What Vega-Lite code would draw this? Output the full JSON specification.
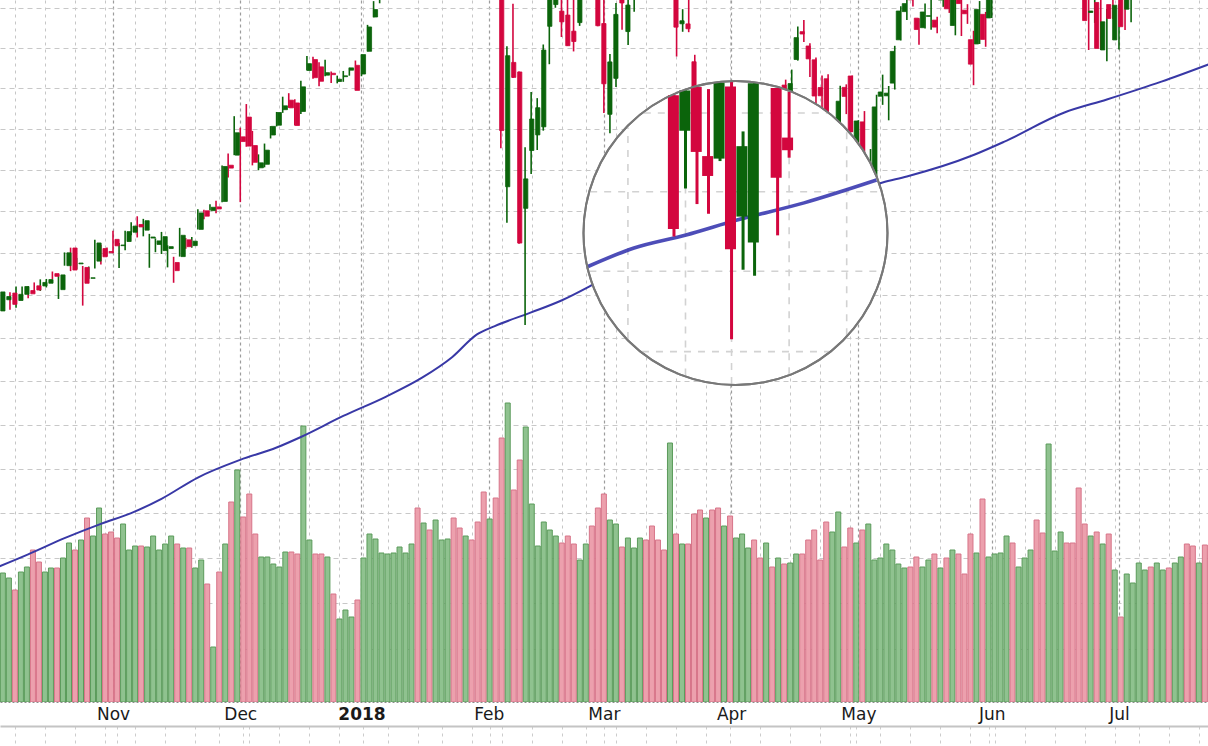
{
  "$schema": "https://vega.github.io/schema/vega-lite/v6.json",
  "width": 1208,
  "height": 702,
  "autosize": {"type": "none"},
  "padding": {"left": 0, "top": 0, "right": 0, "bottom": 44},
  "background": "#ffffff",
  "config": {"view": {"stroke": null}, "axis": {"title": null}},
  "datasets": {
    "ohlc": [
      {"i":0,"o":2540.86,"h":2552.51,"l":2536.52,"c":2552.07,"v":1290},
      {"i":1,"o":2547.44,"h":2549.41,"l":2543.79,"c":2549.33,"v":1240},
      {"i":2,"o":2551.39,"h":2551.82,"l":2541.6,"c":2544.73,"v":1120},
      {"i":3,"o":2547.0,"h":2555.23,"l":2542.73,"c":2550.64,"v":1300},
      {"i":4,"o":2550.62,"h":2555.24,"l":2547.95,"c":2555.24,"v":1350},
      {"i":5,"o":2552.88,"h":2555.33,"l":2548.31,"c":2550.93,"v":1520},
      {"i":6,"o":2555.66,"h":2557.65,"l":2552.09,"c":2553.17,"v":1400},
      {"i":7,"o":2555.57,"h":2559.47,"l":2552.64,"c":2557.64,"v":1300},
      {"i":8,"o":2557.17,"h":2559.71,"l":2554.69,"c":2559.36,"v":1340},
      {"i":9,"o":2562.87,"h":2564.11,"l":2559.67,"c":2561.26,"v":1340},
      {"i":10,"o":2553.39,"h":2562.36,"l":2547.92,"c":2562.1,"v":1440},
      {"i":11,"o":2567.56,"h":2575.44,"l":2567.56,"c":2575.21,"v":1590},
      {"i":12,"o":2578.08,"h":2578.29,"l":2564.33,"c":2564.98,"v":1520},
      {"i":13,"o":2568.66,"h":2572.18,"l":2565.58,"c":2569.13,"v":1620},
      {"i":14,"o":2566.52,"h":2567.4,"l":2544.0,"c":2557.15,"v":1840},
      {"i":15,"o":2560.08,"h":2567.07,"l":2559.8,"c":2560.4,"v":1660},
      {"i":16,"o":2570.26,"h":2582.98,"l":2565.94,"c":2581.07,"v":1940},
      {"i":17,"o":2577.75,"h":2580.03,"l":2568.25,"c":2572.83,"v":1680},
      {"i":18,"o":2575.99,"h":2578.29,"l":2572.95,"c":2575.26,"v":1700},
      {"i":19,"o":2583.21,"h":2588.4,"l":2574.92,"c":2579.36,"v":1640},
      {"i":20,"o":2579.46,"h":2581.11,"l":2566.17,"c":2579.85,"v":1780},
      {"i":21,"o":2581.93,"h":2588.42,"l":2576.77,"c":2587.84,"v":1520},
      {"i":22,"o":2587.47,"h":2593.38,"l":2585.66,"c":2591.13,"v":1560},
      {"i":23,"o":2592.11,"h":2597.02,"l":2584.35,"c":2590.64,"v":1560},
      {"i":24,"o":2588.71,"h":2595.47,"l":2585.02,"c":2594.38,"v":1550},
      {"i":25,"o":2584.0,"h":2586.5,"l":2566.33,"c":2584.62,"v":1660},
      {"i":26,"o":2580.18,"h":2583.81,"l":2575.57,"c":2582.3,"v":1520},
      {"i":27,"o":2576.53,"h":2587.66,"l":2574.48,"c":2584.84,"v":1580},
      {"i":28,"o":2577.75,"h":2579.66,"l":2566.56,"c":2578.87,"v":1660},
      {"i":29,"o":2569.45,"h":2572.84,"l":2557.45,"c":2564.62,"v":1580},
      {"i":30,"o":2572.95,"h":2590.09,"l":2572.95,"c":2585.64,"v":1540},
      {"i":31,"o":2582.94,"h":2583.96,"l":2577.62,"c":2578.85,"v":1540},
      {"i":32,"o":2579.49,"h":2584.64,"l":2578.24,"c":2582.14,"v":1340},
      {"i":33,"o":2589.17,"h":2601.19,"l":2589.17,"c":2599.03,"v":1420},
      {"i":34,"o":2600.31,"h":2600.94,"l":2595.23,"c":2597.08,"v":1180},
      {"i":35,"o":2600.42,"h":2604.21,"l":2600.42,"c":2602.42,"v":550},
      {"i":36,"o":2602.66,"h":2606.41,"l":2598.87,"c":2601.42,"v":1300},
      {"i":37,"o":2605.94,"h":2627.69,"l":2605.44,"c":2627.04,"v":1580},
      {"i":38,"o":2627.82,"h":2634.89,"l":2620.32,"c":2626.07,"v":2000},
      {"i":39,"o":2633.93,"h":2657.74,"l":2633.93,"c":2647.58,"v":2320},
      {"i":40,"o":2645.1,"h":2650.62,"l":2605.52,"c":2642.22,"v":1850},
      {"i":41,"o":2657.19,"h":2665.19,"l":2639.03,"c":2639.44,"v":2080},
      {"i":42,"o":2639.78,"h":2648.72,"l":2627.73,"c":2629.57,"v":1680},
      {"i":43,"o":2626.24,"h":2634.41,"l":2624.75,"c":2629.27,"v":1450},
      {"i":44,"o":2628.38,"h":2640.99,"l":2626.53,"c":2636.98,"v":1450},
      {"i":45,"o":2646.21,"h":2651.65,"l":2644.1,"c":2651.5,"v":1380},
      {"i":46,"o":2652.19,"h":2660.33,"l":2651.47,"c":2659.99,"v":1350},
      {"i":47,"o":2661.73,"h":2669.72,"l":2659.78,"c":2664.11,"v":1500},
      {"i":48,"o":2667.59,"h":2671.88,"l":2662.85,"c":2662.85,"v":1500},
      {"i":49,"o":2665.87,"h":2668.09,"l":2652.01,"c":2652.01,"v":1480},
      {"i":50,"o":2660.63,"h":2679.63,"l":2659.14,"c":2675.81,"v":2760},
      {"i":51,"o":2685.92,"h":2694.97,"l":2685.92,"c":2690.16,"v":1620},
      {"i":52,"o":2692.71,"h":2694.44,"l":2680.74,"c":2681.47,"v":1480},
      {"i":53,"o":2688.18,"h":2691.01,"l":2676.11,"c":2679.25,"v":1480},
      {"i":54,"o":2683.02,"h":2692.64,"l":2682.4,"c":2684.57,"v":1450},
      {"i":55,"o":2684.22,"h":2685.35,"l":2678.13,"c":2683.34,"v":1080},
      {"i":56,"o":2679.09,"h":2682.74,"l":2677.96,"c":2680.5,"v":830},
      {"i":57,"o":2682.1,"h":2685.64,"l":2678.91,"c":2682.62,"v":920},
      {"i":58,"o":2686.1,"h":2687.66,"l":2682.69,"c":2687.54,"v":850},
      {"i":59,"o":2689.15,"h":2692.12,"l":2673.61,"c":2673.61,"v":1020},
      {"i":60,"o":2683.73,"h":2695.89,"l":2682.36,"c":2695.81,"v":1440},
      {"i":61,"o":2697.85,"h":2714.37,"l":2697.77,"c":2713.06,"v":1680},
      {"i":62,"o":2719.31,"h":2729.29,"l":2719.07,"c":2723.99,"v":1630},
      {"i":63,"o":2731.33,"h":2743.45,"l":2727.92,"c":2743.15,"v":1490},
      {"i":64,"o":2742.67,"h":2748.51,"l":2737.6,"c":2747.71,"v":1480},
      {"i":65,"o":2751.15,"h":2759.14,"l":2747.86,"c":2751.29,"v":1490},
      {"i":66,"o":2745.55,"h":2750.8,"l":2736.06,"c":2748.23,"v":1550},
      {"i":67,"o":2752.97,"h":2767.56,"l":2752.78,"c":2767.56,"v":1490},
      {"i":68,"o":2770.18,"h":2787.85,"l":2769.64,"c":2786.24,"v":1580},
      {"i":69,"o":2798.96,"h":2807.54,"l":2768.64,"c":2776.42,"v":1940},
      {"i":70,"o":2784.99,"h":2807.04,"l":2778.38,"c":2802.56,"v":1790},
      {"i":71,"o":2802.4,"h":2805.83,"l":2792.56,"c":2798.03,"v":1720},
      {"i":72,"o":2802.6,"h":2810.33,"l":2798.08,"c":2810.3,"v":1820},
      {"i":73,"o":2809.16,"h":2833.03,"l":2808.12,"c":2832.97,"v":1620},
      {"i":74,"o":2835.05,"h":2842.24,"l":2830.59,"c":2839.13,"v":1630},
      {"i":75,"o":2845.42,"h":2852.97,"l":2824.81,"c":2837.54,"v":1840},
      {"i":76,"o":2846.24,"h":2848.56,"l":2830.94,"c":2839.25,"v":1740},
      {"i":77,"o":2847.48,"h":2872.87,"l":2846.18,"c":2872.87,"v":1660},
      {"i":78,"o":2867.23,"h":2870.62,"l":2851.48,"c":2853.53,"v":1620},
      {"i":79,"o":2832.74,"h":2837.75,"l":2818.27,"c":2822.43,"v":1800},
      {"i":80,"o":2832.41,"h":2839.26,"l":2813.04,"c":2823.81,"v":2100},
      {"i":81,"o":2816.45,"h":2835.96,"l":2812.7,"c":2821.98,"v":1830},
      {"i":82,"o":2808.92,"h":2808.92,"l":2759.97,"c":2762.13,"v":2040},
      {"i":83,"o":2741.06,"h":2763.39,"l":2638.17,"c":2648.94,"v":2640},
      {"i":84,"o":2614.78,"h":2701.04,"l":2593.07,"c":2695.14,"v":2990},
      {"i":85,"o":2690.95,"h":2727.67,"l":2681.33,"c":2681.66,"v":2120},
      {"i":86,"o":2685.01,"h":2685.27,"l":2580.56,"c":2581.0,"v":2420},
      {"i":87,"o":2601.78,"h":2638.67,"l":2532.69,"c":2619.55,"v":2750},
      {"i":88,"o":2636.75,"h":2672.61,"l":2622.45,"c":2656.0,"v":1980},
      {"i":89,"o":2646.27,"h":2668.84,"l":2637.08,"c":2662.94,"v":1560},
      {"i":90,"o":2651.21,"h":2702.1,"l":2648.87,"c":2698.63,"v":1800},
      {"i":91,"o":2713.46,"h":2731.51,"l":2689.82,"c":2731.2,"v":1720},
      {"i":92,"o":2727.14,"h":2754.42,"l":2725.11,"c":2732.22,"v":1660},
      {"i":93,"o":2722.99,"h":2737.6,"l":2706.76,"c":2716.26,"v":1590},
      {"i":94,"o":2720.53,"h":2747.75,"l":2701.29,"c":2701.33,"v":1660},
      {"i":95,"o":2710.42,"h":2731.26,"l":2697.77,"c":2703.96,"v":1580},
      {"i":96,"o":2715.8,"h":2747.76,"l":2713.74,"c":2747.3,"v":1420},
      {"i":97,"o":2757.37,"h":2780.64,"l":2753.78,"c":2779.6,"v":1580},
      {"i":98,"o":2780.45,"h":2789.15,"l":2744.22,"c":2744.28,"v":1760},
      {"i":99,"o":2753.78,"h":2761.52,"l":2713.54,"c":2713.83,"v":1940},
      {"i":100,"o":2715.22,"h":2730.89,"l":2659.65,"c":2677.67,"v":2080},
      {"i":101,"o":2658.89,"h":2696.25,"l":2647.32,"c":2691.25,"v":1820},
      {"i":102,"o":2681.06,"h":2728.09,"l":2675.75,"c":2720.94,"v":1780},
      {"i":103,"o":2730.18,"h":2732.08,"l":2711.26,"c":2728.12,"v":1550},
      {"i":104,"o":2710.18,"h":2730.6,"l":2701.74,"c":2726.8,"v":1640},
      {"i":105,"o":2732.75,"h":2740.45,"l":2722.65,"c":2738.97,"v":1540},
      {"i":106,"o":2752.91,"h":2786.57,"l":2751.54,"c":2786.57,"v":1640},
      {"i":107,"o":2790.54,"h":2796.98,"l":2779.26,"c":2783.02,"v":1620},
      {"i":108,"o":2792.31,"h":2801.9,"l":2758.68,"c":2765.31,"v":1760},
      {"i":109,"o":2774.06,"h":2777.11,"l":2744.38,"c":2749.48,"v":1620},
      {"i":110,"o":2754.27,"h":2763.03,"l":2741.47,"c":2747.33,"v":1520},
      {"i":111,"o":2750.57,"h":2761.85,"l":2749.97,"c":2752.01,"v":2590},
      {"i":112,"o":2741.38,"h":2741.38,"l":2694.59,"c":2712.92,"v":1680},
      {"i":113,"o":2715.05,"h":2724.22,"l":2710.05,"c":2716.94,"v":1580},
      {"i":114,"o":2714.99,"h":2739.14,"l":2709.79,"c":2711.93,"v":1580},
      {"i":115,"o":2691.36,"h":2695.68,"l":2641.59,"c":2643.69,"v":1880},
      {"i":116,"o":2646.71,"h":2657.67,"l":2585.89,"c":2588.26,"v":1920},
      {"i":117,"o":2619.35,"h":2661.36,"l":2601.04,"c":2658.55,"v":1840},
      {"i":118,"o":2667.57,"h":2674.78,"l":2596.12,"c":2612.62,"v":1920},
      {"i":119,"o":2611.3,"h":2632.65,"l":2593.06,"c":2605.0,"v":1940},
      {"i":120,"o":2610.5,"h":2659.07,"l":2609.72,"c":2640.87,"v":1760},
      {"i":121,"o":2633.45,"h":2638.3,"l":2553.8,"c":2581.88,"v":1860},
      {"i":122,"o":2592.17,"h":2619.14,"l":2575.49,"c":2614.45,"v":1640},
      {"i":123,"o":2584.04,"h":2649.86,"l":2573.61,"c":2644.69,"v":1680},
      {"i":124,"o":2657.36,"h":2672.08,"l":2649.58,"c":2662.84,"v":1540},
      {"i":125,"o":2645.82,"h":2656.88,"l":2586.27,"c":2604.47,"v":1620},
      {"i":126,"o":2617.18,"h":2653.55,"l":2610.79,"c":2613.16,"v":1440},
      {"i":127,"o":2638.41,"h":2665.45,"l":2635.78,"c":2656.87,"v":1590},
      {"i":128,"o":2643.56,"h":2661.43,"l":2639.25,"c":2642.19,"v":1350},
      {"i":129,"o":2653.83,"h":2674.72,"l":2653.83,"c":2663.99,"v":1440},
      {"i":130,"o":2676.9,"h":2680.26,"l":2645.05,"c":2656.3,"v":1380},
      {"i":131,"o":2670.1,"h":2686.49,"l":2665.16,"c":2677.84,"v":1390},
      {"i":132,"o":2692.74,"h":2713.34,"l":2692.05,"c":2706.39,"v":1480},
      {"i":133,"o":2710.11,"h":2717.49,"l":2703.63,"c":2708.64,"v":1480},
      {"i":134,"o":2701.16,"h":2702.84,"l":2681.9,"c":2693.13,"v":1620},
      {"i":135,"o":2692.56,"h":2693.94,"l":2660.61,"c":2670.14,"v":1720},
      {"i":136,"o":2675.4,"h":2682.86,"l":2657.99,"c":2670.29,"v":1420},
      {"i":137,"o":2680.8,"h":2683.55,"l":2617.32,"c":2634.56,"v":1800},
      {"i":138,"o":2634.92,"h":2645.3,"l":2612.67,"c":2639.4,"v":1700},
      {"i":139,"o":2651.65,"h":2676.48,"l":2647.16,"c":2666.94,"v":1900},
      {"i":140,"o":2675.47,"h":2677.35,"l":2659.01,"c":2669.91,"v":1550},
      {"i":141,"o":2682.51,"h":2682.87,"l":2648.04,"c":2648.05,"v":1740},
      {"i":142,"o":2642.96,"h":2655.27,"l":2625.41,"c":2654.8,"v":1590},
      {"i":143,"o":2654.24,"h":2660.87,"l":2631.7,"c":2635.67,"v":1720},
      {"i":144,"o":2628.08,"h":2637.65,"l":2594.62,"c":2629.73,"v":1780},
      {"i":145,"o":2621.45,"h":2670.93,"l":2615.32,"c":2663.42,"v":1420},
      {"i":146,"o":2670.0,"h":2683.35,"l":2664.7,"c":2672.63,"v":1440},
      {"i":147,"o":2670.26,"h":2676.34,"l":2655.2,"c":2671.92,"v":1580},
      {"i":148,"o":2678.12,"h":2701.27,"l":2674.14,"c":2697.79,"v":1520},
      {"i":149,"o":2705.02,"h":2726.11,"l":2704.54,"c":2723.07,"v":1380},
      {"i":150,"o":2722.7,"h":2732.86,"l":2717.45,"c":2727.72,"v":1340},
      {"i":151,"o":2738.35,"h":2742.1,"l":2725.84,"c":2730.13,"v":1350},
      {"i":152,"o":2718.59,"h":2718.59,"l":2701.91,"c":2711.45,"v":1450},
      {"i":153,"o":2712.62,"h":2727.76,"l":2712.17,"c":2722.46,"v":1350},
      {"i":154,"o":2719.71,"h":2731.96,"l":2711.36,"c":2720.13,"v":1420},
      {"i":155,"o":2717.35,"h":2719.5,"l":2709.18,"c":2712.97,"v":1480},
      {"i":156,"o":2730.0,"h":2739.19,"l":2725.7,"c":2733.01,"v":1340},
      {"i":157,"o":2738.34,"h":2742.24,"l":2721.88,"c":2724.44,"v":1440},
      {"i":158,"o":2713.98,"h":2733.33,"l":2707.84,"c":2733.29,"v":1520},
      {"i":159,"o":2730.94,"h":2731.97,"l":2707.38,"c":2727.76,"v":1480},
      {"i":160,"o":2723.6,"h":2727.36,"l":2714.99,"c":2721.33,"v":1280},
      {"i":161,"o":2705.11,"h":2710.67,"l":2676.81,"c":2689.86,"v":1680},
      {"i":162,"o":2702.43,"h":2729.34,"l":2702.43,"c":2724.01,"v":1490},
      {"i":163,"o":2720.98,"h":2722.5,"l":2700.68,"c":2705.27,"v":2030},
      {"i":164,"o":2718.7,"h":2736.93,"l":2718.7,"c":2734.62,"v":1450},
      {"i":165,"o":2741.67,"h":2749.16,"l":2740.54,"c":2746.87,"v":1480},
      {"i":166,"o":2748.46,"h":2752.61,"l":2739.51,"c":2748.8,"v":1490},
      {"i":167,"o":2753.25,"h":2772.39,"l":2748.46,"c":2772.35,"v":1660},
      {"i":168,"o":2774.84,"h":2779.9,"l":2760.16,"c":2770.37,"v":1590},
      {"i":169,"o":2765.84,"h":2779.39,"l":2763.59,"c":2779.03,"v":1350},
      {"i":170,"o":2780.18,"h":2790.21,"l":2780.17,"c":2782.0,"v":1440},
      {"i":171,"o":2785.6,"h":2789.8,"l":2778.78,"c":2786.85,"v":1520},
      {"i":172,"o":2787.94,"h":2791.47,"l":2774.65,"c":2775.63,"v":1820},
      {"i":173,"o":2783.21,"h":2789.06,"l":2776.52,"c":2782.49,"v":1690},
      {"i":174,"o":2777.78,"h":2782.81,"l":2761.73,"c":2779.66,"v":2580},
      {"i":175,"o":2765.79,"h":2774.99,"l":2757.12,"c":2773.75,"v":1510},
      {"i":176,"o":2752.01,"h":2765.05,"l":2743.19,"c":2762.59,"v":1700},
      {"i":177,"o":2769.73,"h":2774.86,"l":2763.91,"c":2767.32,"v":1590},
      {"i":178,"o":2769.28,"h":2769.28,"l":2744.39,"c":2749.76,"v":1590},
      {"i":179,"o":2760.79,"h":2764.17,"l":2752.68,"c":2754.88,"v":2140},
      {"i":180,"o":2742.94,"h":2742.94,"l":2698.67,"c":2717.07,"v":1780},
      {"i":181,"o":2722.12,"h":2732.91,"l":2715.6,"c":2723.06,"v":1660},
      {"i":182,"o":2728.45,"h":2746.09,"l":2698.67,"c":2699.63,"v":1700},
      {"i":183,"o":2698.69,"h":2724.34,"l":2691.63,"c":2716.31,"v":1580},
      {"i":184,"o":2727.13,"h":2743.26,"l":2718.03,"c":2718.37,"v":1680},
      {"i":185,"o":2704.95,"h":2727.26,"l":2698.95,"c":2726.71,"v":1320},
      {"i":186,"o":2733.27,"h":2736.58,"l":2711.16,"c":2713.22,"v":850},
      {"i":187,"o":2724.19,"h":2737.83,"l":2716.02,"c":2736.61,"v":1280},
      {"i":188,"o":2737.68,"h":2764.41,"l":2733.52,"c":2759.82,"v":1190},
      {"i":189,"o":2775.62,"h":2784.65,"l":2770.73,"c":2784.17,"v":1390},
      {"i":190,"o":2788.56,"h":2795.58,"l":2786.24,"c":2793.84,"v":1320},
      {"i":191,"o":2779.82,"h":2785.91,"l":2770.77,"c":2774.02,"v":1350},
      {"i":192,"o":2783.14,"h":2799.22,"l":2783.14,"c":2798.29,"v":1390},
      {"i":193,"o":2796.93,"h":2804.53,"l":2791.69,"c":2801.31,"v":1320},
      {"i":194,"o":2800.0,"h":2801.19,"l":2793.39,"c":2798.43,"v":1340},
      {"i":195,"o":2789.34,"h":2814.19,"l":2789.24,"c":2809.55,"v":1390},
      {"i":196,"o":2811.35,"h":2816.76,"l":2805.89,"c":2815.62,"v":1450},
      {"i":197,"o":2809.37,"h":2812.05,"l":2799.77,"c":2804.49,"v":1580},
      {"i":198,"o":2804.55,"h":2809.7,"l":2800.01,"c":2801.83,"v":1560},
      {"i":199,"o":2799.17,"h":2808.61,"l":2795.14,"c":2806.98,"v":1390},
      {"i":200,"o":2820.68,"h":2829.99,"l":2811.12,"c":2820.4,"v":1570}
    ],
    "ma": [
      {"i":0,"m":2395},{"i":5,"m":2402},{"i":11,"m":2411},{"i":17,"m":2419},{"i":22,"m":2425},
      {"i":27,"m":2433},{"i":33,"m":2445},{"i":40,"m":2455},{"i":46,"m":2462},{"i":50,"m":2468},
      {"i":57,"m":2480},{"i":64,"m":2491},{"i":70,"m":2502},{"i":75,"m":2514},{"i":79,"m":2527},
      {"i":82,"m":2532},{"i":88,"m":2540},{"i":93,"m":2547},{"i":98,"m":2556},{"i":104,"m":2568},
      {"i":109,"m":2576.5},{"i":113,"m":2583},{"i":117,"m":2586.4},{"i":121,"m":2590.6},{"i":127,"m":2596.2},
      {"i":134,"m":2604.2},{"i":140,"m":2610.5},{"i":146,"m":2617.4},{"i":150,"m":2621},{"i":161,"m":2634},
      {"i":166,"m":2642},{"i":176,"m":2660},{"i":183,"m":2668},{"i":192,"m":2679},{"i":200,"m":2690}
    ],
    "lens": [{"i":121.72,"p":2587.0}],
    "zc": [
      {"i":116,"o":2630.7,"h":2630.7,"l":2585.89,"c":2588.26},
      {"i":117,"o":2619.35,"h":2632.2,"l":2601.04,"c":2632.2},
      {"i":118,"o":2633.3,"h":2633.3,"l":2596.12,"c":2612.62},
      {"i":119,"o":2611.3,"h":2632.65,"l":2593.06,"c":2605.0},
      {"i":120,"o":2610.5,"h":2634.7,"l":2609.72,"c":2634.7},
      {"i":121,"o":2633.45,"h":2634.9,"l":2553.8,"c":2581.88},
      {"i":122,"o":2592.17,"h":2619.14,"l":2575.49,"c":2614.45},
      {"i":123,"o":2584.04,"h":2634.5,"l":2573.61,"c":2634.5},
      {"i":125,"o":2633.0,"h":2633.0,"l":2586.27,"c":2604.47},
      {"i":126,"o":2617.18,"h":2631.8,"l":2610.79,"c":2613.16}
    ],
    "zma": [
      {"i":108.53,"m":2576.5},{"i":112.53,"m":2582.3},{"i":117.05,"m":2586.4},
      {"i":121.48,"m":2591.1},{"i":127.3,"m":2596.5},{"i":133.59,"m":2603.7}
    ],
    "zh": [
      {"i1":113.38,"i2":129.31,"p":2625},
      {"i1":108.72,"i2":133.96,"p":2600},
      {"i1":108.65,"i2":134.03,"p":2575},
      {"i1":113.22,"i2":129.46,"p":2550}
    ],
    "zv": [
      {"i":112,"p1":2553.9,"p2":2620.5},
      {"i":117,"p1":2542.6,"p2":2632.2},
      {"i":121,"p1":2540.0,"p2":2634.9},
      {"i":126,"p1":2543.0,"p2":2631.8},
      {"i":131,"p1":2555.1,"p2":2619.3}
    ]
  },
  "resolve": {"scale": {"x": "independent", "y": "independent"}},
  "layer": [
    {
      "data": {"name": "ohlc"},
      "mark": {"type": "bar", "size": 5, "strokeWidth": 1, "orient": "vertical", "clip": true},
      "encoding": {
        "x": {"field": "i", "type": "quantitative", "scale": {"domain": [0.353, 199.69], "nice": false, "zero": false},
          "axis": {"orient": "bottom", "values": [2,7,12,17,22,27,32,36,41,46,51,56,60,64,69,73,78,83,88,93,97,102,107,112,117,121,126,131,136,141,146,151,156,161,165,170,175,180,185,189,194,199],
            "grid": true, "gridColor": "#c6c6c6", "gridDash": [3,4], "gridWidth": 1, "labels": false, "ticks": false, "domain": false, "title": null}},
        "y": {"field": "v", "type": "quantitative", "scale": {"domain": [0, 7020], "nice": false}, "axis": null},
        "y2": {"datum": 0},
        "fill": {"condition": {"test": "datum.c >= datum.o", "value": "#8fc28f"}, "value": "#eca0ad"},
        "stroke": {"condition": {"test": "datum.c >= datum.o", "value": "#5b9b5b"}, "value": "#d77489"}
      }
    },
    {
      "data": {"name": "ma"},
      "mark": {"type": "line", "color": "#3838a6", "strokeWidth": 2, "interpolate": "monotone", "clip": true},
      "encoding": {
        "x": {"field": "i", "type": "quantitative", "scale": {"domain": [0.353, 199.69], "nice": false, "zero": false}, "axis": null},
        "y": {"field": "m", "type": "quantitative", "scale": {"type": "log", "domain": [2321.5, 2730], "nice": false, "zero": false}, "axis": null}
      }
    },
    {
      "data": {"name": "ohlc"},
      "mark": {"type": "rule", "strokeWidth": 1.6, "clip": true},
      "encoding": {
        "x": {"field": "i", "type": "quantitative", "scale": {"domain": [0.353, 199.69], "nice": false, "zero": false},
          "axis": {"orient": "bottom", "values": [19,40,60,81,100,121,142,164,185],
            "labelExpr": "datum.value == 19 ? 'Nov' : datum.value == 40 ? 'Dec' : datum.value == 60 ? '2018' : datum.value == 81 ? 'Feb' : datum.value == 100 ? 'Mar' : datum.value == 121 ? 'Apr' : datum.value == 142 ? 'May' : datum.value == 164 ? 'Jun' : 'Jul'",
            "labelFont": "DejaVu Sans", "labelFontSize": 17, "labelColor": "#1a1a1a",
            "labelFontWeight": {"condition": {"test": "datum.value == 60", "value": "bold"}, "value": "normal"},
            "labelPadding": 4, "labelOverlap": false, "labelFlush": false,
            "grid": true, "gridColor": "#9c9c9c", "gridDash": [3,3], "gridWidth": 1.2,
            "ticks": false, "domain": true, "domainColor": "#8c8c8c", "domainDash": [2,2], "domainWidth": 1, "title": null}},
        "y": {"field": "l", "type": "quantitative", "scale": {"type": "log", "domain": [2321.5, 2730], "nice": false, "zero": false},
          "axis": {"orient": "left", "values": [2350,2375,2400,2425,2450,2475,2500,2525,2550,2575,2600,2625,2650,2675,2700,2725],
            "grid": true, "gridColor": "#c8c8c8", "gridDash": [5,4], "gridWidth": 1, "labels": false, "ticks": false, "domain": false, "title": null}},
        "y2": {"field": "h"},
        "color": {"condition": {"test": "datum.c >= datum.o", "value": "#0b640b"}, "value": "#d3063e"}
      }
    },
    {
      "data": {"name": "ohlc"},
      "mark": {"type": "bar", "size": 4.2, "strokeWidth": 0.8, "orient": "vertical", "clip": true},
      "encoding": {
        "x": {"field": "i", "type": "quantitative", "scale": {"domain": [0.353, 199.69], "nice": false, "zero": false},
          "axis": {"orient": "bottom", "offset": 24, "values": [2,7,12,17,19,22,27,32,36,40,41,46,51,56,60,64,69,73,78,81,83,88,93,97,100,102,107,112,117,121,126,131,136,141,142,146,151,156,161,164,165,170,175,180,185,189,194,199],
            "grid": false, "labels": false, "ticks": true, "tickSize": 22, "tickColor": "#cccccc", "tickDash": [3,4], "tickWidth": 1,
            "domain": true, "domainColor": "#c4c4c4", "domainWidth": 2, "title": null}},
        "y": {"field": "o", "type": "quantitative", "scale": {"type": "log", "domain": [2321.5, 2730], "nice": false, "zero": false}, "axis": null},
        "y2": {"field": "c"},
        "fill": {"condition": {"test": "datum.c >= datum.o", "value": "#0b640b"}, "value": "#d3063e"},
        "stroke": {"condition": {"test": "datum.c >= datum.o", "value": "#0b640b"}, "value": "#d3063e"}
      }
    },
    {
      "data": {"name": "lens"},
      "mark": {"type": "point", "shape": "circle", "size": 92416, "filled": true, "fill": "#ffffff", "stroke": "#787878", "strokeWidth": 2, "opacity": 1},
      "encoding": {
        "x": {"field": "i", "type": "quantitative", "scale": {"domain": [0.353, 199.69], "nice": false, "zero": false}, "axis": null},
        "y": {"field": "p", "type": "quantitative", "scale": {"type": "log", "domain": [2321.5, 2730], "nice": false, "zero": false}, "axis": null}
      }
    },
    {
      "data": {"name": "zh"},
      "mark": {"type": "rule", "color": "#d2d2d2", "strokeWidth": 1.6, "strokeDash": [7,7]},
      "encoding": {
        "x": {"field": "i1", "type": "quantitative", "scale": {"domain": [57.465, 162.38], "nice": false, "zero": false}, "axis": null},
        "x2": {"field": "i2"},
        "y": {"field": "p", "type": "quantitative", "scale": {"type": "log", "domain": [2443.7, 2661.3], "nice": false, "zero": false}, "axis": null}
      }
    },
    {
      "data": {"name": "zv"},
      "mark": {"type": "rule", "color": "#d2d2d2", "strokeWidth": 1.6, "strokeDash": [7,7]},
      "encoding": {
        "x": {"field": "i", "type": "quantitative", "scale": {"domain": [57.465, 162.38], "nice": false, "zero": false}, "axis": null},
        "y": {"field": "p1", "type": "quantitative", "scale": {"type": "log", "domain": [2443.7, 2661.3], "nice": false, "zero": false}, "axis": null},
        "y2": {"field": "p2"}
      }
    },
    {
      "data": {"name": "zma"},
      "mark": {"type": "line", "color": "#3a3ab0", "strokeWidth": 3.6, "opacity": 0.9, "interpolate": "monotone"},
      "encoding": {
        "x": {"field": "i", "type": "quantitative", "scale": {"domain": [57.465, 162.38], "nice": false, "zero": false}, "axis": null},
        "y": {"field": "m", "type": "quantitative", "scale": {"type": "log", "domain": [2443.7, 2661.3], "nice": false, "zero": false}, "axis": null}
      }
    },
    {
      "data": {"name": "zc"},
      "mark": {"type": "rule", "strokeWidth": 3},
      "encoding": {
        "x": {"field": "i", "type": "quantitative", "scale": {"domain": [57.465, 162.38], "nice": false, "zero": false}, "axis": null},
        "y": {"field": "l", "type": "quantitative", "scale": {"type": "log", "domain": [2443.7, 2661.3], "nice": false, "zero": false}, "axis": null},
        "y2": {"field": "h"},
        "color": {"condition": {"test": "datum.c >= datum.o", "value": "#0b640b"}, "value": "#d3063e"}
      }
    },
    {
      "data": {"name": "zc"},
      "mark": {"type": "bar", "size": 11, "orient": "vertical"},
      "encoding": {
        "x": {"field": "i", "type": "quantitative", "scale": {"domain": [57.465, 162.38], "nice": false, "zero": false}, "axis": null},
        "y": {"field": "o", "type": "quantitative", "scale": {"type": "log", "domain": [2443.7, 2661.3], "nice": false, "zero": false}, "axis": null},
        "y2": {"field": "c"},
        "fill": {"condition": {"test": "datum.c >= datum.o", "value": "#0b640b"}, "value": "#d3063e"}
      }
    },
    {
      "data": {"name": "lens"},
      "mark": {"type": "point", "shape": "circle", "size": 92416, "filled": false, "fill": null, "stroke": "#787878", "strokeWidth": 2, "opacity": 1},
      "encoding": {
        "x": {"field": "i", "type": "quantitative", "scale": {"domain": [0.353, 199.69], "nice": false, "zero": false}, "axis": null},
        "y": {"field": "p", "type": "quantitative", "scale": {"type": "log", "domain": [2321.5, 2730], "nice": false, "zero": false}, "axis": null}
      }
    }
  ]
}
